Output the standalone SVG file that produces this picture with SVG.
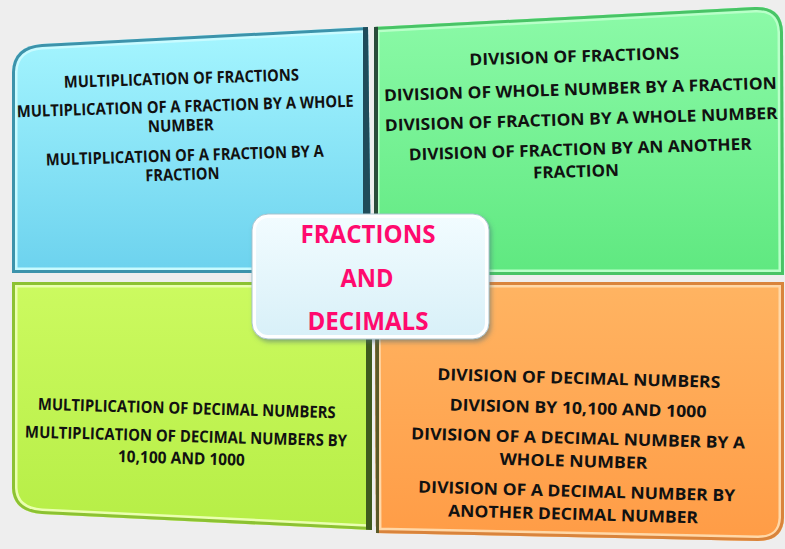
<svg xmlns="http://www.w3.org/2000/svg" width="785" height="549" viewBox="0 0 785 549">
<defs>
<style>
.t{font-family:"Open Sans","Liberation Sans",sans-serif;font-weight:700;font-size:16.5px;fill:#111;text-anchor:middle}
.c{font-family:"Open Sans","Liberation Sans",sans-serif;font-weight:700;font-size:25px;fill:#ff0a6e;text-anchor:middle}
</style>
<linearGradient id="gB" x1="0" y1="0" x2="0" y2="1"><stop offset="0" stop-color="#a6f6ff"/><stop offset="1" stop-color="#6cd2ee"/></linearGradient>
<linearGradient id="gG" x1="0" y1="0" x2="0" y2="1"><stop offset="0" stop-color="#8cfaa8"/><stop offset="1" stop-color="#5fe880"/></linearGradient>
<linearGradient id="gL" x1="0" y1="0" x2="0" y2="1"><stop offset="0" stop-color="#ccfa60"/><stop offset="1" stop-color="#b6ee46"/></linearGradient>
<linearGradient id="gO" x1="0" y1="0" x2="0" y2="1"><stop offset="0" stop-color="#ffb462"/><stop offset="1" stop-color="#ff9c46"/></linearGradient>
<linearGradient id="gC" x1="0" y1="0" x2="0" y2="1"><stop offset="0" stop-color="#f2fcff"/><stop offset="1" stop-color="#d8f0f8"/></linearGradient>
<path id="pB" d="M12,72 Q13,46 42,44 L368,27 L371,273 L12,273 Z"/>
<path id="pG" d="M374,27 L755,7 Q782,6 783,32 L784,275 L374,275 Z"/>
<path id="pL" d="M12,282 L372,282 L372,530 L42,514 Q13,512 12,488 Z"/>
<path id="pO" d="M375,282 L784,282 L784,518 Q783,541 758,541 L376,533 Z"/>
<clipPath id="cB"><use href="#pB"/></clipPath>
<clipPath id="cG"><use href="#pG"/></clipPath>
<clipPath id="cL"><use href="#pL"/></clipPath>
<clipPath id="cO"><use href="#pO"/></clipPath>
<filter id="sh" x="-10%" y="-10%" width="125%" height="130%"><feDropShadow dx="2" dy="3" stdDeviation="2.5" flood-color="#4a6a78" flood-opacity="0.55"/></filter>
</defs>
<rect width="785" height="549" fill="#eeeeee"/>

<g id="node-multiplication-fractions">
<use href="#pB" fill="url(#gB)"/>
<g clip-path="url(#cB)">
<use href="#pB" fill="none" stroke="#c8fbff" stroke-width="11"/>
<use href="#pB" fill="none" stroke="#3c93ab" stroke-width="6"/>
<rect x="363" y="20" width="9" height="256" fill="#1f4c5a"/>
</g>
<g transform="rotate(-1.8 186 130)">
<text class="t" x="183" y="84" textLength="235" lengthAdjust="spacingAndGlyphs">MULTIPLICATION OF FRACTIONS</text>
<text class="t" x="186" y="112" textLength="337" lengthAdjust="spacingAndGlyphs">MULTIPLICATION OF A FRACTION BY A WHOLE</text>
<text class="t" x="181" y="131" textLength="66" lengthAdjust="spacingAndGlyphs">NUMBER</text>
<text class="t" x="184" y="161" textLength="278" lengthAdjust="spacingAndGlyphs">MULTIPLICATION OF A FRACTION BY A</text>
<text class="t" x="181" y="180" textLength="74" lengthAdjust="spacingAndGlyphs">FRACTION</text>
</g>
</g>

<g id="node-division-fractions">
<use href="#pG" fill="url(#gG)"/>
<g clip-path="url(#cG)">
<use href="#pG" fill="none" stroke="#b8ffc8" stroke-width="11"/>
<use href="#pG" fill="none" stroke="#48c466" stroke-width="6"/>
<rect x="372" y="20" width="6" height="260" fill="#2a4c3a"/>
</g>
<g transform="rotate(-1.8 580 110)">
<text class="t" x="576" y="62" textLength="210" lengthAdjust="spacingAndGlyphs">DIVISION OF FRACTIONS</text>
<text class="t" x="581" y="95" textLength="393" lengthAdjust="spacingAndGlyphs">DIVISION OF WHOLE NUMBER BY A FRACTION</text>
<text class="t" x="581" y="125" textLength="393" lengthAdjust="spacingAndGlyphs">DIVISION OF FRACTION BY A WHOLE NUMBER</text>
<text class="t" x="579" y="155" textLength="343" lengthAdjust="spacingAndGlyphs">DIVISION OF FRACTION BY AN ANOTHER</text>
<text class="t" x="574" y="177" textLength="86" lengthAdjust="spacingAndGlyphs">FRACTION</text>
</g>
</g>

<g id="node-multiplication-decimals">
<use href="#pL" fill="url(#gL)"/>
<g clip-path="url(#cL)">
<use href="#pL" fill="none" stroke="#eaffb0" stroke-width="11"/>
<use href="#pL" fill="none" stroke="#8cc232" stroke-width="6"/>
<rect x="366" y="278" width="8" height="260" fill="#3e5a1e"/>
</g>
<g transform="rotate(1.6 186 435)">
<text class="t" x="186" y="414" textLength="298" lengthAdjust="spacingAndGlyphs">MULTIPLICATION OF DECIMAL NUMBERS</text>
<text class="t" x="186" y="442" textLength="322" lengthAdjust="spacingAndGlyphs">MULTIPLICATION OF DECIMAL NUMBERS BY</text>
<text class="t" x="182" y="464" textLength="127" lengthAdjust="spacingAndGlyphs">10,100 AND 1000</text>
</g>
</g>

<g id="node-division-decimals">
<use href="#pO" fill="url(#gO)"/>
<g clip-path="url(#cO)">
<use href="#pO" fill="none" stroke="#ffd8a8" stroke-width="11"/>
<use href="#pO" fill="none" stroke="#d9843c" stroke-width="6"/>
<rect x="374" y="278" width="5" height="260" fill="#5a5a28"/>
</g>
<g transform="rotate(1.6 578 445)">
<text class="t" x="577" y="384" textLength="283" lengthAdjust="spacingAndGlyphs">DIVISION OF DECIMAL NUMBERS</text>
<text class="t" x="577" y="414" textLength="257" lengthAdjust="spacingAndGlyphs">DIVISION BY 10,100 AND 1000</text>
<text class="t" x="578" y="444" textLength="334" lengthAdjust="spacingAndGlyphs">DIVISION OF A DECIMAL NUMBER BY A</text>
<text class="t" x="574" y="467" textLength="148" lengthAdjust="spacingAndGlyphs">WHOLE NUMBER</text>
<text class="t" x="578" y="497" textLength="317" lengthAdjust="spacingAndGlyphs">DIVISION OF A DECIMAL NUMBER BY</text>
<text class="t" x="575" y="520" textLength="250" lengthAdjust="spacingAndGlyphs">ANOTHER DECIMAL NUMBER</text>
</g>
</g>

<g id="node-center">
<rect x="254" y="216" width="233" height="121" rx="14" fill="url(#gC)" stroke="#ffffff" stroke-width="4" filter="url(#sh)"/>
<rect x="252" y="214" width="237" height="125" rx="16" fill="none" stroke="#a9c4cf" stroke-width="1"/>
<text class="c" x="368" y="243" textLength="135" lengthAdjust="spacingAndGlyphs">FRACTIONS</text>
<text class="c" x="367" y="287" textLength="53" lengthAdjust="spacingAndGlyphs">AND</text>
<text class="c" x="368" y="330" textLength="121" lengthAdjust="spacingAndGlyphs">DECIMALS</text>
</g>
</svg>
